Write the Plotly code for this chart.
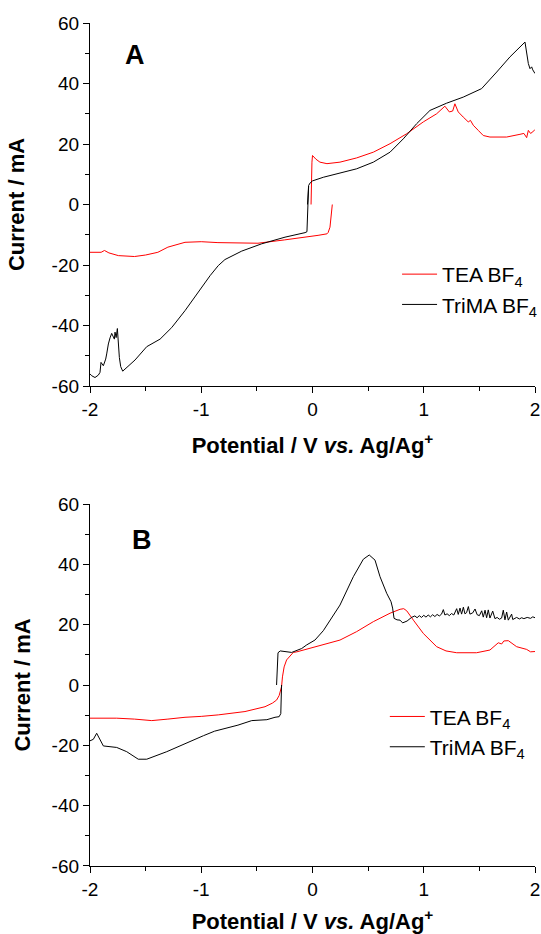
import plotly.graph_objects as go

# ---------------- Panel A ----------------
# TEA BF4, reverse sweep (0.18 V -> -2 V)
tea_a_rev_x = [0.178, 0.165, 0.157, 0.14, 0.13, 0.05, -0.02, -0.2, -0.25, -0.49, -0.7, -0.85,
               -1.0, -1.146, -1.3, -1.39, -1.5, -1.6, -1.745, -1.83, -1.87, -1.9, -2.0]
tea_a_rev_y = [0, -4, -7.5, -9.3, -9.7, -10.2, -10.6, -11.4, -11.7, -12.8, -12.8, -12.6,
               -12.3, -12.5, -14.1, -15.8, -16.7, -17.2, -16.9, -16.0, -15.2, -15.8, -15.8]
# TEA BF4, forward sweep (0 V -> 2 V)
tea_a_fwd_x = [-0.013, -0.01, -0.005, 0.0, 0.03, 0.067, 0.13, 0.247, 0.397, 0.547, 0.697, 0.847,
               0.996, 1.116, 1.19, 1.23, 1.26, 1.28, 1.31, 1.355, 1.40, 1.42, 1.445, 1.49, 1.535,
               1.595, 1.745, 1.865, 1.90, 1.925, 1.94, 1.96, 1.98, 2.0]
tea_a_fwd_y = [0, 8, 14, 16.2, 15.0, 14.0, 13.5, 14.0, 15.4, 17.3, 20.1, 23.4,
               27.3, 30.0, 32.5, 30.6, 30.9, 33.3, 30.6, 28.9, 27.3, 27.8, 26.2, 24.5, 22.8,
               22.3, 22.3, 23.2, 23.5, 22.1, 24.5, 23.5, 24.0, 24.8]
# TriMA BF4, forward sweep
trima_a_fwd_x = [-0.045, -0.042, -0.035, -0.02, 0.0, 0.097, 0.247, 0.397, 0.547, 0.697, 0.816,
                 0.936, 1.056, 1.206, 1.355, 1.52, 1.656, 1.775, 1.91, 1.925, 1.94, 1.955, 1.97,
                 1.98, 2.0]
trima_a_fwd_y = [0, 4, 6.3, 7.2, 7.8, 9.0, 10.4, 11.8, 14.0, 17.3, 21.7,
                 26.7, 31.1, 33.5, 35.5, 38.3, 43.8, 48.8, 53.7, 49.3, 46.6, 44.9, 45.5,
                 44.5, 43.3]
# TriMA BF4, reverse sweep
trima_a_rev_x = [-0.035, -0.04, -0.045, -0.05, -0.067, -0.2, -0.247, -0.457, -0.636, -0.787,
                 -0.847, -0.92, -0.996, -1.146, -1.266, -1.37, -1.49, -1.595, -1.706, -1.724,
                 -1.736, -1.754, -1.765, -1.775, -1.781, -1.805, -1.82, -1.835, -1.85, -1.859,
                 -1.88, -1.901, -1.91, -1.925, -1.955, -1.985, -2.0]
trima_a_rev_y = [6.0, 0, -6.0, -9.0, -9.3, -10.3, -10.8, -13.0, -15.4, -18.2,
                 -20.2, -23.5, -27.4, -35.1, -40.7, -44.5, -47.0, -51.4, -55.1, -53.6,
                 -50.6, -41.0, -44.0, -42.2, -44.5, -42.6, -44.1, -46.1, -49.4, -51.1,
                 -53.3, -52.2, -55.5, -56.4, -57.2, -56.6, -56.0]

# ---------------- Panel B ----------------
tea_b_x = [-2.0, -1.76, -1.6, -1.445, -1.3, -1.146, -1.0, -0.847, -0.607, -0.5, -0.427, -0.36,
           -0.323, -0.3, -0.285, -0.278, -0.27, -0.255, -0.233, -0.2, -0.173, -0.14, 0.038,
           0.247, 0.397, 0.547, 0.697, 0.787, 0.82, 0.847, 0.907, 0.996, 1.116, 1.2, 1.296,
           1.475, 1.595, 1.67, 1.70, 1.72, 1.76, 1.79, 1.835, 1.925, 1.96, 2.0]
tea_b_y = [-11.0, -11.0, -11.3, -11.8, -11.3, -10.7, -10.4, -9.9, -8.8, -8.0, -7.2, -6.0,
           -5.0, -3.5, -1.5, -0.5, 2.7, 6.0, 8.3, 9.6, 10.8, 11.0, 12.7,
           14.9, 17.7, 21.0, 23.8, 25.1, 25.3, 24.6, 21.5, 17.1, 12.7, 11.3, 10.7,
           10.7, 11.6, 14.0, 13.6, 14.6, 14.7, 13.9, 12.7, 11.8, 11.0, 11.1]
# TriMA BF4, reverse sweep
trima_b_rev_x = [-0.278, -0.28, -0.285, -0.30, -0.337, -0.41, -0.546, -0.67, -0.88, -0.98,
                 -1.10, -1.31, -1.49, -1.566, -1.67, -1.76, -1.88, -1.94, -1.97, -2.0]
trima_b_rev_y = [0, -5.0, -9.5, -10.5, -10.7, -11.5, -11.8, -13.3, -15.3, -16.8,
                 -18.8, -22.1, -24.6, -24.6, -22.1, -20.7, -20.2, -16.0, -18.0, -18.5]
# TriMA BF4, forward sweep
trima_b_fwd_x = [-0.323, -0.318, -0.31, -0.29, -0.25, -0.187, -0.097, -0.052, 0.022, 0.097,
                 0.247, 0.367, 0.457, 0.51, 0.562, 0.607, 0.667, 0.706, 0.72, 0.733, 0.76,
                 0.787, 0.81, 0.85, 0.89, 0.92, 0.94, 0.96, 0.98, 1.00, 1.02, 1.04, 1.06, 1.08,
                 1.10, 1.12, 1.14, 1.16, 1.176, 1.19, 1.21, 1.23, 1.25, 1.27, 1.296, 1.31,
                 1.326, 1.34, 1.356, 1.37, 1.385, 1.401, 1.415, 1.44, 1.461, 1.48, 1.50, 1.521,
                 1.535, 1.551, 1.565, 1.58, 1.595, 1.62, 1.64, 1.66, 1.68, 1.70, 1.715, 1.73,
                 1.745, 1.76, 1.79, 1.80, 1.835, 1.86, 1.88, 1.90, 1.93, 1.96, 1.98, 2.0]
trima_b_fwd_y = [0, 6.0, 10.7, 11.3, 11.2, 10.8, 12.1, 13.3, 14.9, 18.0,
                 26.5, 35.9, 41.7, 43.1, 41.4, 35.9, 30.4, 27.6, 25.5, 22.1, 21.6,
                 21.5, 20.6, 21.2, 22.4, 22.9, 22.3, 23.0, 22.4, 23.1, 22.5, 23.2, 22.6, 23.3,
                 22.7, 23.4, 22.9, 23.5, 25.0, 23.2, 23.6, 23.0, 23.7, 23.2, 25.3, 23.4,
                 25.5, 23.5, 25.8, 23.6, 24.0, 26.0, 23.5, 23.9, 25.2, 23.3, 23.0, 24.6,
                 22.5, 24.8, 22.3, 24.9, 22.2, 24.5, 22.0, 22.4, 21.8, 22.2, 24.8, 21.6,
                 24.2, 21.5, 23.5, 21.7, 22.4, 21.9, 22.3, 22.0, 22.4, 22.1, 22.6, 22.3]

x_ticks = [-2, -1, 0, 1, 2]
x_ticklabels = ["-2", "-1", "0", "1", "2"]
x_minor = [-1.5, -0.5, 0.5, 1.5]
y_ticks = [-60, -40, -20, 0, 20, 40, 60]
y_ticklabels = ["-60", "-40", "-20", "0", "20", "40", "60"]
y_minor = [-50, -30, -10, 10, 30, 50]

series_names = ["TEA BF<sub>4</sub>", "TriMA BF<sub>4</sub>"]
panel_labels = ["A", "B"]
x_title = "Potential / V <i>vs.</i> Ag/Ag<sup>+</sup>"
y_title = "Current / mA"


def join(*segs):
    xs, ys = [], []
    for i, (sx, sy) in enumerate(segs):
        if i:
            xs.append(None)
            ys.append(None)
        xs += list(sx)
        ys += list(sy)
    return xs, ys


FONT = "Liberation Sans, Arial, sans-serif"
RED = "#ff0000"
BLACK = "#000000"

fig = go.Figure()
ax, ay = join((tea_a_rev_x, tea_a_rev_y), (tea_a_fwd_x, tea_a_fwd_y))
fig.add_trace(go.Scatter(x=ax, y=ay, mode="lines", name=series_names[0],
                         line=dict(color=RED, width=1), xaxis="x", yaxis="y",
                         legend="legend"))
bx, by = join((trima_a_fwd_x, trima_a_fwd_y), (trima_a_rev_x, trima_a_rev_y))
fig.add_trace(go.Scatter(x=bx, y=by, mode="lines", name=series_names[1],
                         line=dict(color=BLACK, width=1), xaxis="x", yaxis="y",
                         legend="legend"))
fig.add_trace(go.Scatter(x=tea_b_x, y=tea_b_y, mode="lines", name=series_names[0],
                         line=dict(color=RED, width=1), xaxis="x2", yaxis="y2",
                         legend="legend2"))
cx, cy = join((trima_b_rev_x, trima_b_rev_y), (trima_b_fwd_x, trima_b_fwd_y))
fig.add_trace(go.Scatter(x=cx, y=cy, mode="lines", name=series_names[1],
                         line=dict(color=BLACK, width=1), xaxis="x2", yaxis="y2",
                         legend="legend2"))


def xaxis_def(anchor):
    return dict(anchor=anchor, domain=[0, 1], range=[-2, 2],
                tickmode="array", tickvals=x_ticks, ticktext=x_ticklabels,
                ticks="outside", ticklen=6, tickwidth=1, tickcolor=BLACK,
                ticklabeloverflow="allow",
                showline=True, linecolor=BLACK, linewidth=1.3,
                showgrid=False, zeroline=False,
                minor=dict(tickmode="array", tickvals=x_minor, ticks="outside",
                           ticklen=4, tickwidth=1, tickcolor=BLACK, showgrid=False),
                tickfont=dict(family=FONT, size=19, color=BLACK),
                title=dict(text=x_title, standoff=18,
                           font=dict(family=FONT, size=22, color=BLACK, weight="bold")))


def yaxis_def(anchor, domain, standoff):
    return dict(anchor=anchor, domain=domain, range=[-60, 60],
                tickmode="array", tickvals=y_ticks, ticktext=y_ticklabels,
                ticks="outside", ticklen=6, tickwidth=1, tickcolor=BLACK,
                ticklabeloverflow="allow",
                showline=True, linecolor=BLACK, linewidth=1.3,
                showgrid=False, zeroline=False,
                minor=dict(tickmode="array", tickvals=y_minor, ticks="outside",
                           ticklen=4, tickwidth=1, tickcolor=BLACK, showgrid=False),
                tickfont=dict(family=FONT, size=19, color=BLACK),
                title=dict(text=y_title, standoff=standoff,
                           font=dict(family=FONT, size=22, color=BLACK, weight="bold")))


legend_common = dict(xanchor="left", yanchor="top", bgcolor="rgba(0,0,0,0)",
                     font=dict(family=FONT, size=21, color=BLACK), tracegroupgap=0,
                     itemwidth=35)

fig.update_layout(
    width=541, height=934,
    margin=dict(l=90, r=6, t=23, b=68, autoexpand=False),
    paper_bgcolor="white", plot_bgcolor="white",
    xaxis=xaxis_def("y"),
    yaxis=yaxis_def("x", [0.5694, 1.0], 20),
    xaxis2=xaxis_def("y2"),
    yaxis2=yaxis_def("x2", [0.0, 0.4294], 14),
    legend=dict(x=0.690, y=0.726, **legend_common),
    legend2=dict(x=0.6625, y=0.2013, **legend_common),
    annotations=[
        dict(text=panel_labels[0], x=0.101, y=0.962, xref="paper", yref="paper",
             xanchor="center", yanchor="middle", showarrow=False,
             font=dict(family=FONT, size=27, color=BLACK, weight="bold")),
        dict(text=panel_labels[1], x=0.117, y=0.3867, xref="paper", yref="paper",
             xanchor="center", yanchor="middle", showarrow=False,
             font=dict(family=FONT, size=27, color=BLACK, weight="bold")),
    ],
)

# remove the default 8 px page margin so the figure fills the window exactly
fig.write_html("out.html",
               config={"displayModeBar": False},
               post_script="document.body.style.margin='0px';"
                           "document.documentElement.style.overflow='hidden';")
